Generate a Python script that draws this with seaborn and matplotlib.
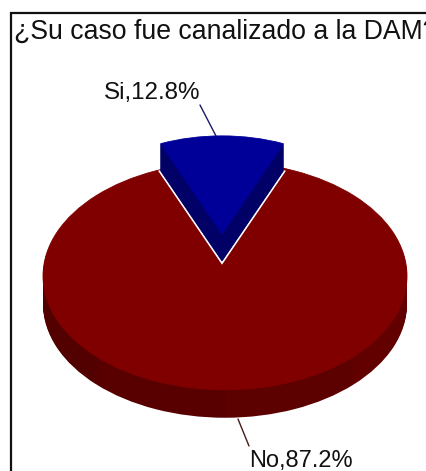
import matplotlib
matplotlib.use("Agg")
import matplotlib.pyplot as plt
import seaborn as sns

# data
categories = ["Si", "No"]
values = [12.8, 87.2]
title = "¿Su caso fue canalizado a la DAM?"
# rim shading, going round the lower half from the left edge to the right edge
rim_tones = ["#520000", "#580000", "#5c0000", "#620000", "#720000", "#6c0000", "#620000", "#500000"]

W, H = 427, 471
SQUASH = 0.625  # ellipse height / width
DEPTH = 28

sns.set_theme(style="white")
plt.rcParams["font.family"] = ["Liberation Sans", "DejaVu Sans"]
red, blue, dark_blue = sns.color_palette(["#800000", "#000099", "#000066"])


# pixel position in the picture -> data coordinates of the squashed axes
def to_data(px, py):
    return px, (H - py) / SQUASH


def draw_pie(ax, vals, colors, radius, cx, cy, start=90, show=None, edge=None, lw=0.6):
    wedges, _ = ax.pie(vals, colors=colors, radius=radius, center=to_data(cx, cy),
                       startangle=start, frame=False,
                       wedgeprops={"linewidth": lw, "edgecolor": edge or "none"})
    if show is not None:
        for i, w in enumerate(wedges):
            w.set_visible(i == show)


fig = plt.figure(figsize=(W / 100, H / 100), dpi=100)
fig.patch.set_facecolor("white")
ax = fig.add_axes([0, 0, 1, 1])

# red body: stacked rim, then the top face
for step in range(DEPTH, 0, -1):
    draw_pie(ax, [1] * len(rim_tones), rim_tones, 182, 225, 276 + step, start=180)
    # upper half of the rim layer is hidden by the top face
draw_pie(ax, [sum(values)], [red], 182, 225, 276, edge=red)

# blue slice, pulled out, with a white edge under it
blue_start = 90 - values[0] * 3.6 / 2
draw_pie(ax, values, [dark_blue] * 2, 157, 222, 234 + DEPTH, blue_start, show=0, edge="white", lw=2.2)
for step in range(DEPTH - 1, 0, -1):
    draw_pie(ax, values, [dark_blue] * 2, 157, 222, 234 + step, blue_start, show=0, edge=dark_blue)
draw_pie(ax, values, [blue] * 2, 157, 222, 234, blue_start, show=0, edge=blue)

# leader lines
ax.plot(*zip(to_data(200, 105), to_data(216, 136)), color="#1a1a66", lw=1)
ax.plot(*zip(to_data(238, 419), to_data(249, 446)), color="#4a1a1a", lw=1)

ax.set_aspect("auto")
ax.set_xlim(0, W)
ax.set_ylim(0, H / SQUASH)
ax.axis("off")

# frame runs off the right and bottom of the picture
fig.add_artist(plt.Rectangle((11.5 / W, -0.1), 1.2, 1.1 - 13 / H, transform=fig.transFigure,
                             fill=False, edgecolor="#111111", lw=1.6))

fig.text(14 / W, 1 - 39 / H, title, fontsize=19.2, color="#111111", ha="left", va="baseline")
fig.text(104 / W, 1 - 99 / H, f"{categories[0]},{values[0]}%", fontsize=17.4, color="#111111",
         ha="left", va="baseline")
fig.text(249 / W, 1 - 467 / H, f"{categories[1]},{values[1]}%", fontsize=17.0, color="#111111",
         ha="left", va="baseline")

fig.savefig("out.png", dpi=100)
plt.close(fig)
